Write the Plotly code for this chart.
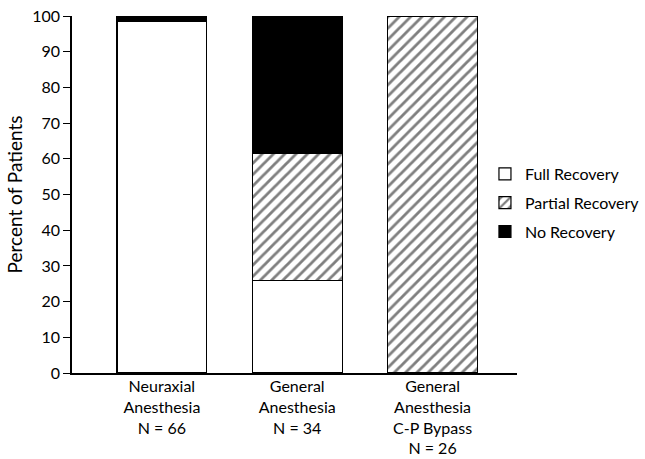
import plotly.graph_objects as go

categories = ["Neuraxial<br>Anesthesia<br>N = 66", "General<br>Anesthesia<br>N = 34", "General<br>Anesthesia<br>C-P Bypass<br>N = 26"]
full_recovery = [98.5, 26, 0]
partial_recovery = [0, 35.5, 100]
no_recovery = [1.5, 38.5, 0]
y_ticks = [0, 10, 20, 30, 40, 50, 60, 70, 80, 90, 100]

FONT = "Lato, Open Sans, sans-serif"
x = [0, 1, 2]
line = dict(color="black", width=1.2)

fig = go.Figure()
fig.add_trace(go.Bar(x=x, y=full_recovery, name="Full Recovery", width=0.664, legendgroup="a",
                     marker=dict(color="white", line=line)))
fig.add_trace(go.Bar(x=x, y=partial_recovery, name="Partial Recovery", width=0.664, legendgroup="b",
                     marker=dict(color="white", line=line,
                                 pattern=dict(shape="/", fgcolor="black", bgcolor="white", size=8, solidity=0.35))))
fig.add_trace(go.Bar(x=x, y=no_recovery, name="No Recovery", width=0.664, legendgroup="c",
                     marker=dict(color="black", line=line)))

fig.update_layout(
    barmode="stack",
    width=645, height=459,
    margin=dict(l=72, r=128, t=16, b=86, autoexpand=False),
    paper_bgcolor="white", plot_bgcolor="white",
    font=dict(family=FONT, size=16, color="black"),
    legend=dict(x=0.928, y=0.605, xanchor="left", yanchor="top", traceorder="grouped",
                font=dict(size=16), tracegroupgap=5, itemwidth=30, borderwidth=0),
    xaxis=dict(range=[-0.664, 2.624], tickvals=x, ticktext=categories, automargin=False,
               showline=True, linecolor="black", linewidth=1.5, ticks="", showgrid=False,
               zeroline=False, tickfont=dict(size=16), ticklabelstandoff=-2),
    yaxis=dict(range=[0, 100], tickvals=y_ticks, showline=True, linecolor="black", linewidth=1.5,
               automargin=False,
               ticks="outside", ticklen=7, tickcolor="black", showgrid=False, zeroline=False,
               tickfont=dict(size=16), title=dict(text="Percent of Patients", font=dict(size=19), standoff=5)),
)

fig.write_html("out.html", config={"displayModeBar": False},
               post_script="document.body.style.margin='0';document.body.style.overflow='hidden';")
